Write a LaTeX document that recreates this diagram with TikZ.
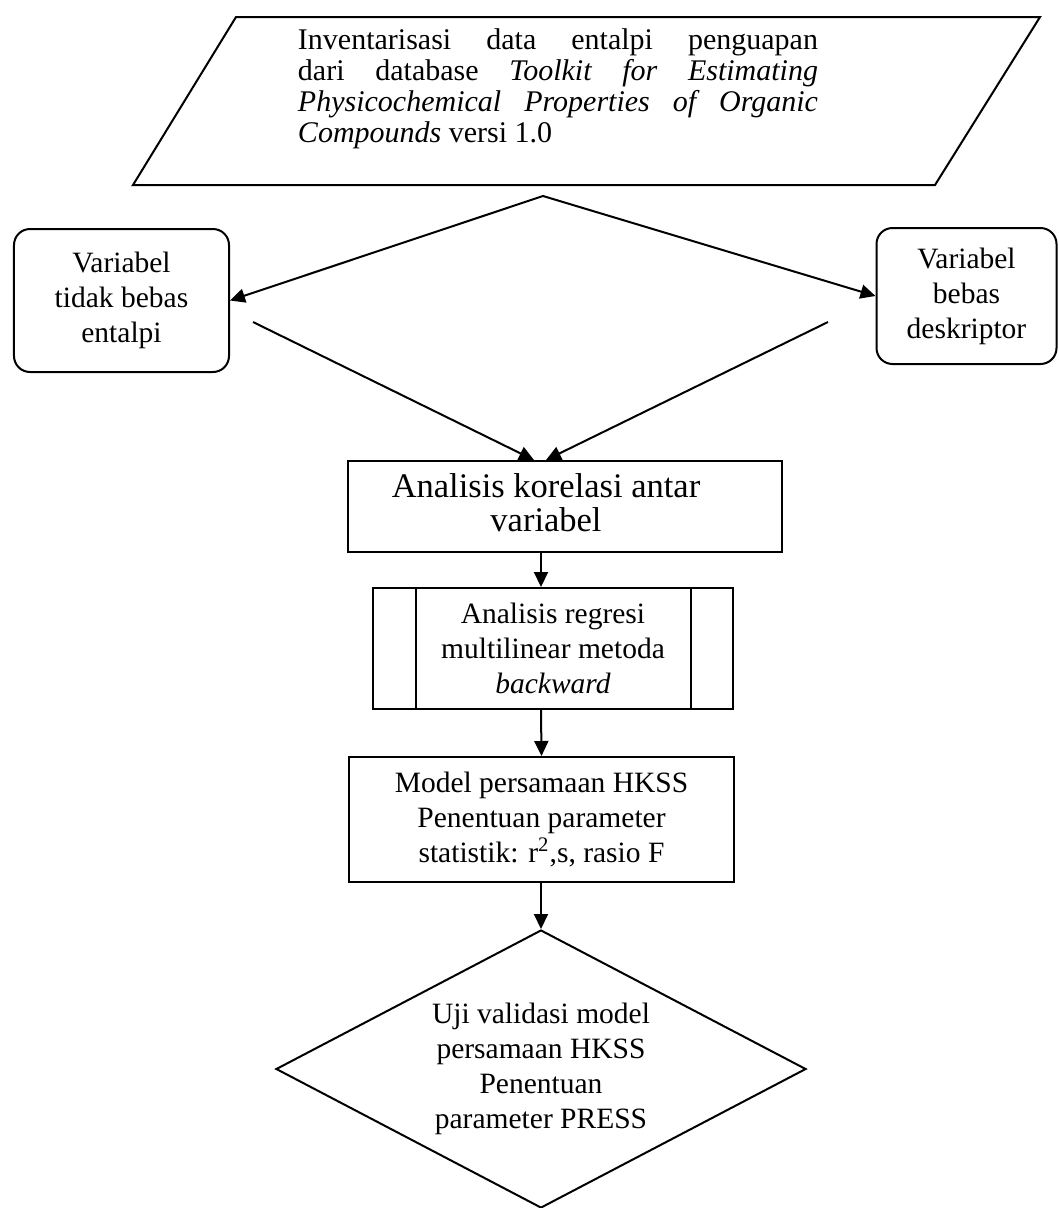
\documentclass[tikz,border=0pt]{standalone}
\usepackage{fontspec}
\setmainfont{Liberation Serif}
\usetikzlibrary{shapes.geometric,arrows.meta}

\begin{document}
\begin{tikzpicture}[x=0.4pt,y=-0.4pt,
  every node/.style={align=center,inner sep=0pt,font=\fontsize{11.8}{14}\selectfont},
  procbox/.style={draw,line width=0.8pt},
  sidebox/.style={procbox,rounded corners=6.4pt},
  decbox/.style={procbox,shape=diamond,aspect=1.92},
  arrowline/.style={-{Triangle[length=6pt,width=5.6pt]},line width=0.8pt}]
\useasboundingbox (0,0) rectangle (1059,1208);
\clip (0,0) rectangle (1059,1208);
\draw[line width=0.8pt] (236,17) -- (1040,17) -- (935,185) -- (133,185) -- cycle;
\node[align=left,font=\fontsize{12}{12.4}\selectfont] (inv) at (558,89) {\makebox[208pt][s]{Inventarisasi data entalpi penguapan}\\
  \makebox[208pt][s]{dari database \textit{Toolkit for Estimating}}\\
  \makebox[208pt][s]{\textit{Physicochemical Properties of Organic}}\\
  \textit{Compounds} versi 1.0};
\coordinate (fork) at (543,196);
\node[sidebox,minimum width=86pt,minimum height=57.2pt] (vl) at (121.5,300.5) {Variabel\\tidak bebas\\entalpi};
\node[sidebox,minimum width=72pt,minimum height=54.4pt] (vr) at (966.5,296) {Variabel\\bebas\\deskriptor};
\coordinate (vlout) at (253,322);
\coordinate (vrout) at (828,322);
\node[procbox,minimum width=173.6pt,minimum height=36.4pt] (corr) at (565,506.5) {};
\node[font=\fontsize{13.8}{13.6}\selectfont] (corrtxt) at (546,503) {Analisis korelasi antar\\variabel};
\node[procbox,minimum width=144pt,minimum height=48.4pt] (regr) at (553,648.5) {Analisis regresi\\multilinear metoda\\\textit{backward}};
\draw[line width=0.8pt] ([xshift=17.6pt]regr.north west) -- ([xshift=17.6pt]regr.south west)
  ([xshift=-17.2pt]regr.north east) -- ([xshift=-17.2pt]regr.south east);
\node[procbox,minimum width=154pt,minimum height=50pt] (model) at (541.5,819.5) {Model persamaan HKSS\\Penentuan parameter\\statistik: r\textsuperscript{2},s, rasio F};
\node[decbox,minimum width=212pt,minimum height=111.2pt] (uji) at (541,1069) {Uji validasi model\\persamaan HKSS\\Penentuan\\parameter PRESS};
\draw[arrowline] (fork) -- (vl.east);
\draw[arrowline] (fork) -- (vr.west);
\draw[arrowline] (vlout) -- ([xshift=74.8pt]corr.north west);
\draw[arrowline] (vrout) -- ([xshift=79.6pt]corr.north west);
\draw[arrowline] (corr.south -| uji.north) -- (regr.north -| uji.north);
\draw[arrowline] (regr.south -| uji.north) -- (model.north);
\draw[arrowline] (model.south -| uji.north) -- (uji.north);
\end{tikzpicture}
\end{document}
